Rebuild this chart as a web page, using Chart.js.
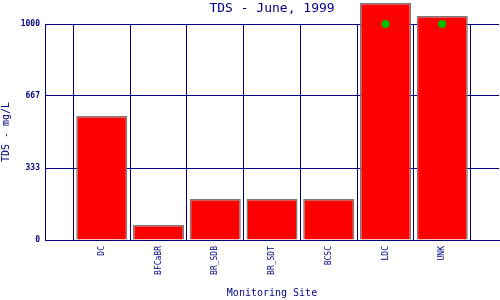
<!DOCTYPE html>
<html>
<head>
<meta charset="utf-8">
<script src="https://cdn.jsdelivr.net/npm/chart.js@4/dist/chart.umd.min.js"></script>
<style>
  html, body { margin: 0; padding: 0; background: #ffffff; }
  #wrap { width: 500px; height: 300px; }
</style>
</head>
<body>
<div id="wrap"><canvas id="tdsChart" width="500" height="300"></canvas></div>
<script>
// monitoring sites and TDS values (mg/L)
var sites = ["DC", "BFCaBR", "BR_SDB", "BR_SDT", "BCSC", "LDC", "UNK"];
var tdsValues = [574, 69, 190, 190, 190, 1097, 1037];
// green markers where the value runs past the top of the axis
var overMarks = [null, null, null, null, null, 1000, 1000];
var yTicks = [0, 333, 667, 1000];

var navy = "#000080";
var mono = "'DejaVu Sans Mono', 'Liberation Mono', monospace";

// empty slot on each end so the sites sit on gridlines
var labels = [""].concat(sites, [""]);
var barData = [null].concat(tdsValues, [null]);
var markData = [null].concat(overMarks, [null]);

//title centred over the plot area, not the whole canvas
var plotTitle = {
    id: 'plotTitle',
    afterDraw: function(chart) {
        var ctx = chart.ctx;
        var area = chart.chartArea;
        ctx.save();
        ctx.fillStyle = navy;
        ctx.font = "13px " + mono;
        ctx.textAlign = "center";
        ctx.textBaseline = "middle";
        ctx.fillText("TDS - June, 1999", (area.left + area.right) / 2, 9);
        ctx.restore();
    }
};

var ctx = document.getElementById('tdsChart').getContext('2d');
var tdsChart = new Chart(ctx, {
    data: {
        labels: labels,
        datasets: [{
            type: 'line',
            data: markData,
            showLine: false,
            pointStyle: 'circle',
            pointRadius: 4,
            pointBackgroundColor: "#00c000",
            pointBorderColor: "#00c000",
            pointBorderWidth: 0,
            clip: false,
            order: 0
        }, {
            type: 'bar',
            data: barData,
            backgroundColor: "#ff0000",
            borderColor: "#7a7a7a",
            borderWidth: 1.5,
            barPercentage: 0.9,
            categoryPercentage: 1,
            clip: false,
            order: 1
        }]
    },
    options: {
        responsive: false,
        animation: false,
        devicePixelRatio: 1,
        layout: { autoPadding: false, padding: { top: 24, right: 1, left: 0, bottom: 0 } },
        plugins: {
            legend: { display: false },
            tooltip: { enabled: false }
        },
        scales: {
            x: {
                type: 'category',
                offset: false,
                grid: { color: navy, lineWidth: 1, drawTicks: false },
                border: { color: navy, width: 1 },
                ticks: {
                    color: navy,
                    font: { family: mono, size: 8 },
                    minRotation: 90,
                    maxRotation: 90,
                    autoSkip: false,
                    padding: 6
                },
                title: {
                    display: true,
                    text: "Monitoring Site",
                    color: navy,
                    font: { family: mono, size: 10 },
                    padding: { top: 0, bottom: 1 }
                },
                afterFit: function(scale) {
                    scale.height = 60;
                    scale.paddingLeft = 0;
                    scale.paddingRight = 0;
                }
            },
            y: {
                min: 0,
                max: 1000,
                afterBuildTicks: function(scale) {
                    scale.ticks = yTicks.map(function(v) { return { value: v }; });
                },
                grid: { color: navy, lineWidth: 1, drawTicks: false },
                border: { color: navy, width: 1 },
                ticks: {
                    color: navy,
                    font: { family: mono, size: 8, weight: 'bold' },
                    padding: 5,
                    callback: function(v) { return String(v); }
                },
                title: {
                    display: true,
                    text: "TDS - mg/L",
                    color: navy,
                    font: { family: mono, size: 10 },
                    padding: { top: 0, bottom: 0 }
                },
                afterFit: function(scale) { scale.width = 45; }
            }
        }
    },
    plugins: [plotTitle]
});
</script>
</body>
</html>
